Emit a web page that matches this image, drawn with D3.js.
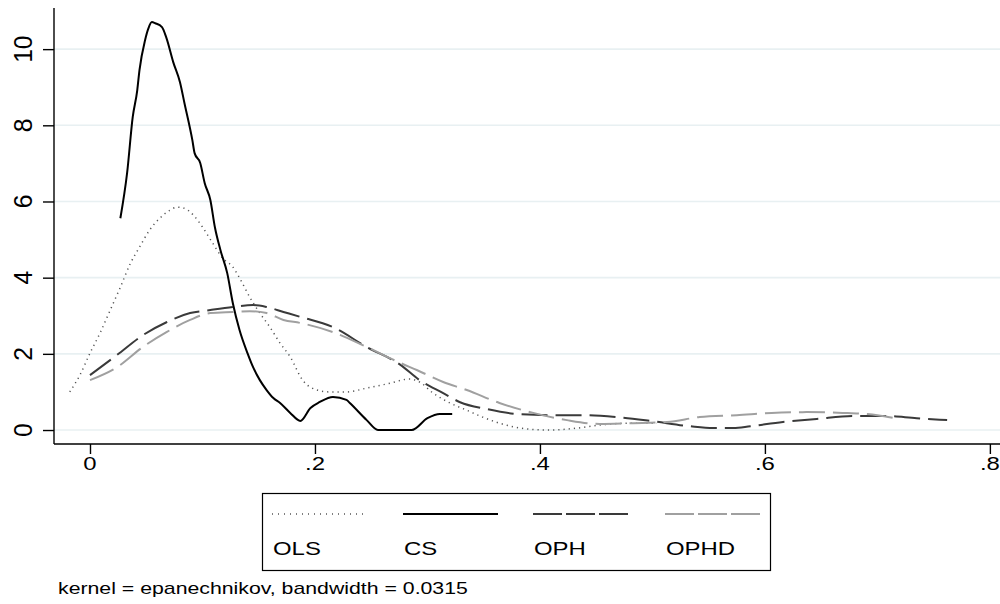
<!DOCTYPE html>
<html>
<head>
<meta charset="utf-8">
<script src="https://cdn.jsdelivr.net/npm/d3@7"></script>
<style>
  body { margin: 0; background: #fff; }
  svg { display: block; font-family: "Liberation Sans", Arial, sans-serif; }
</style>
</head>
<body>
<svg id="chart" width="1000" height="604"></svg>
<script>
// tick values and labels
const xTicks = [0, 0.2, 0.4, 0.6, 0.8];
const xTickLabels = ["0", ".2", ".4", ".6", ".8"];
const yTicks = [0, 2, 4, 6, 8, 10];
const yTickLabels = ["0", "2", "4", "6", "8", "10"];

// density estimates, [x, density]
const olsPts = [[-0.018,1.0],[-0.009,1.44],[0,2.02],[0.009,2.55],[0.018,3.15],[0.027,3.75],[0.036,4.38],
  [0.044,4.8],[0.053,5.25],[0.062,5.56],[0.071,5.77],[0.077,5.85],[0.083,5.83],[0.092,5.64],[0.100,5.33],
  [0.109,4.91],[0.118,4.51],[0.127,4.28],[0.133,3.99],[0.142,3.49],[0.151,3.07],[0.160,2.7],[0.169,2.28],
  [0.178,1.92],[0.189,1.31],[0.202,1.05],[0.213,1.0],[0.228,1.0],[0.246,1.1],[0.267,1.23],[0.284,1.34],
  [0.293,1.26],[0.305,0.97],[0.320,0.71],[0.335,0.52],[0.349,0.34],[0.364,0.18],[0.388,0.03],[0.409,0.0],
  [0.433,0.05],[0.453,0.13],[0.480,0.18],[0.504,0.18]];
const csPts = [[0.027,5.56],[0.033,6.75],[0.038,8.22],[0.042,8.92],[0.044,9.45],[0.049,10.24],[0.052,10.55],
  [0.055,10.71],[0.058,10.68],[0.064,10.58],[0.068,10.29],[0.074,9.66],[0.080,9.13],[0.084,8.58],
  [0.091,7.61],[0.093,7.27],[0.098,7.01],[0.102,6.48],[0.107,6.04],[0.111,5.33],[0.116,4.72],[0.122,4.12],
  [0.127,3.33],[0.133,2.62],[0.140,2.02],[0.145,1.65],[0.151,1.31],[0.157,1.05],[0.163,0.84],[0.169,0.71],
  [0.178,0.45],[0.187,0.24],[0.196,0.58],[0.204,0.73],[0.216,0.87],[0.228,0.79],[0.231,0.71],[0.246,0.26],
  [0.256,0.0],[0.286,0.0],[0.300,0.31],[0.311,0.42],[0.322,0.42]];
const ophPts = [[0,1.44],[0.024,1.97],[0.047,2.49],[0.068,2.83],[0.089,3.07],[0.107,3.15],[0.127,3.23],
  [0.145,3.28],[0.157,3.23],[0.172,3.1],[0.187,2.97],[0.216,2.7],[0.246,2.18],[0.276,1.71],[0.293,1.31],
  [0.314,0.97],[0.329,0.73],[0.353,0.55],[0.380,0.42],[0.409,0.39],[0.438,0.39],[0.468,0.34],[0.498,0.24],
  [0.533,0.10],[0.554,0.05],[0.572,0.05],[0.587,0.10],[0.616,0.21],[0.646,0.29],[0.678,0.37],[0.705,0.37],
  [0.735,0.31],[0.762,0.26]];
const ophdPts = [[0,1.31],[0.024,1.65],[0.047,2.18],[0.068,2.57],[0.089,2.89],[0.107,3.07],[0.127,3.10],
  [0.142,3.12],[0.157,3.07],[0.172,2.89],[0.187,2.81],[0.216,2.57],[0.246,2.18],[0.276,1.76],[0.291,1.57],
  [0.314,1.26],[0.335,1.05],[0.364,0.71],[0.394,0.45],[0.424,0.26],[0.453,0.16],[0.483,0.18],[0.513,0.21],
  [0.542,0.34],[0.575,0.39],[0.606,0.45],[0.637,0.47],[0.669,0.45],[0.700,0.39],[0.716,0.31]];

const seriesNames = ["OLS", "CS", "OPH", "OPHD"];
const noteText = "kernel = epanechnikov, bandwidth = 0.0315";

const svg = d3.select('#chart');
const plotLeft = 54, plotRight = 1000, plotTop = 8, plotBottom = 444;
const stretch = 1.33;   // glyphs in the picture are wider than the font

const x = d3.scaleLinear().domain([-0.032, 0.809]).range([plotLeft, plotRight]);
const y = d3.scaleLinear().domain([-0.367, 11.08]).range([plotBottom, plotTop]);

// gridlines
svg.append('g').selectAll('line')
  .data(yTicks).enter().append('line')
  .attr('x1', plotLeft).attr('x2', plotRight)
  .attr('y1', d => y(d)).attr('y2', d => y(d))
  .attr('stroke', '#e8f0f2').attr('stroke-width', 1.6);

// axes
const yAxis = svg.append('g')
  .attr('transform', `translate(${plotLeft},0)`)
  .call(d3.axisLeft(y).tickValues(yTicks).tickSize(11).tickFormat(''));
const xAxis = svg.append('g')
  .attr('transform', `translate(0,${plotBottom})`)
  .call(d3.axisBottom(x).tickValues(xTicks).tickSize(10).tickFormat(''));
[yAxis, xAxis].forEach(a => {
  a.selectAll('line').attr('stroke', '#000').attr('stroke-width', 1.4);
  a.select('.domain').remove();
});
svg.append('line').attr('x1', plotLeft).attr('x2', plotLeft).attr('y1', plotTop).attr('y2', plotBottom)
  .attr('stroke', '#000').attr('stroke-width', 1.4);
svg.append('line').attr('x1', plotLeft).attr('x2', plotRight).attr('y1', plotBottom).attr('y2', plotBottom)
  .attr('stroke', '#000').attr('stroke-width', 1.4);

// tick labels
svg.append('g').selectAll('text')
  .data(yTicks).enter().append('text')
  .attr('transform', d => `translate(32,${y(d)}) rotate(-90) scale(0.95,1)`)
  .attr('text-anchor', 'middle').attr('font-size', 26)
  .text((d, i) => yTickLabels[i]);
svg.append('g').selectAll('text')
  .data(xTicks).enter().append('text')
  .attr('transform', d => `translate(${x(d)},470) scale(${stretch},1)`)
  .attr('text-anchor', 'middle').attr('font-size', 18)
  .text((d, i) => xTickLabels[i]);

// curves
const styles = [
  { pts: olsPts, color: '#555', width: 1.5, dash: '1.2,4' },
  { pts: csPts, color: '#000', width: 2, dash: null },
  { pts: ophPts, color: '#3a3a3a', width: 2, dash: '26,8' },
  { pts: ophdPts, color: '#a0a0a0', width: 2, dash: '26,8' }
];
const line = d3.line()
  .x(d => x(d[0]))
  .y(d => y(d[1]))
  .curve(d3.curveMonotoneX);

svg.append('g').selectAll('path')
  .data(styles).enter().append('path')
  .attr('d', d => line(d.pts))
  .attr('fill', 'none')
  .attr('stroke', d => d.color)
  .attr('stroke-width', d => d.width)
  .attr('stroke-dasharray', d => d.dash);

// legend
const legend = svg.append('g');
legend.append('rect')
  .attr('x', 262.5).attr('y', 493.5).attr('width', 508).attr('height', 77)
  .attr('fill', 'none').attr('stroke', '#000').attr('stroke-width', 1.2);
const keyX = [272, 403, 533, 665];
legend.selectAll('line.key')
  .data(styles).enter().append('line')
  .attr('class', 'key')
  .attr('x1', (d, i) => keyX[i]).attr('x2', (d, i) => keyX[i] + 95)
  .attr('y1', 514).attr('y2', 514)
  .attr('stroke', d => d.color)
  .attr('stroke-width', d => d.width)
  .attr('stroke-dasharray', (d, i) => i === 0 ? '1,5' : i > 1 ? '29,4' : null);
legend.selectAll('text')
  .data(seriesNames).enter().append('text')
  .attr('transform', (d, i) => `translate(${keyX[i] + 1},555) scale(${stretch},1)`)
  .attr('font-size', 18)
  .text(d => d);

// note
svg.append('text')
  .attr('transform', `translate(58,594) scale(${stretch},1)`)
  .attr('font-size', 16)
  .text(noteText);
</script>
</body>
</html>
